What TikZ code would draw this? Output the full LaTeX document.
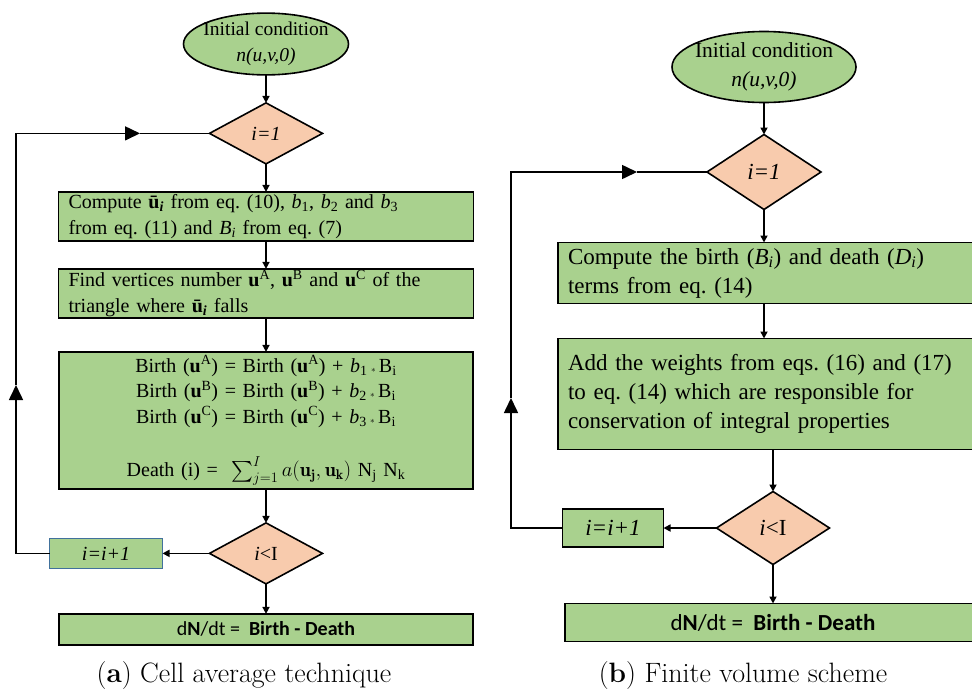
\documentclass[tikz,border=0pt]{standalone}
\usepackage{fontspec}
\usepackage{amsmath}
\newfontfamily\timesfont{Liberation Serif}
\newfontfamily\calfont{Carlito}
\usetikzlibrary{arrows.meta,positioning,shapes.geometric}
\definecolor{cellgreen}{RGB}{169,209,142}
\definecolor{peach}{RGB}{248,203,173}
\definecolor{incblue}{RGB}{65,113,156}

\begin{document}
\begin{tikzpicture}[x=1pt, y=-1pt,
        startnode/.style={ellipse, draw, line width=1.6pt, fill=cellgreen, align=center, inner xsep=-6pt, inner ysep=0pt, outer sep=0pt},
        testnode/.style={diamond, draw, line width=1.6pt, fill=peach, inner sep=0pt, outer sep=0pt},
        stepbox/.style={rectangle, draw, line width=1.6pt, fill=cellgreen, inner xsep=10pt, inner ysep=0pt, outer sep=0pt},
        flow/.style={-{Triangle[length=7pt, width=7pt]}, line width=1.6pt},
        loopflow/.style={-{Triangle[length=15pt, width=14pt]}, line width=1.6pt},
        textA/.style={font=\timesfont\frenchspacing\fontsize{20}{25.5}\selectfont},
        textB/.style={font=\timesfont\frenchspacing\fontsize{23}{29}\selectfont}
    ]
        \useasboundingbox (0,0) rectangle (972,691);

        % (a) cell average technique
        \node[startnode, font=\timesfont\fontsize{19.5}{26}\selectfont, minimum width=165pt, minimum height=61pt] (startA) at (266,44)
            {Initial condition\\\textit{n(u,v,0)}};
        \node[testnode, textA, minimum width=113pt, minimum height=61pt, below=28pt of startA] (firstA) {\textit{i=1}};
        \node[stepbox, textA, align=left, text width=395pt, minimum height=49pt, below=28pt of firstA] (computeA)
            {Compute \textbf{ū}\textsubscript{\bfseries\itshape i} from eq. (10), \textit{b}\textsubscript{1}, \textit{b}\textsubscript{2} and \textit{b}\textsubscript{3}\\
             from eq. (11) and \textit{B\textsubscript{i}} from eq. (7)};
        \node[stepbox, textA, align=left, text width=395pt, minimum height=49pt, below=28pt of computeA] (findA)
            {Find vertices number \textbf{u}\textsuperscript{A}, \textbf{u}\textsuperscript{B} and \textbf{u}\textsuperscript{C} of the\\
             triangle where \textbf{ū}\textsubscript{\bfseries\itshape i} falls};
        \node[stepbox, textA, align=center, text width=394pt, minimum height=137pt, below=34pt of findA] (birthA)
            {Birth (\textbf{u}\textsuperscript{A}) = Birth (\textbf{u}\textsuperscript{A}) + \textit{b}\textsubscript{1}\,{\small$\ast$}\,B\textsubscript{i}\\
             Birth (\textbf{u}\textsuperscript{B}) = Birth (\textbf{u}\textsuperscript{B}) + \textit{b}\textsubscript{2}\,{\small$\ast$}\,B\textsubscript{i}\\
             Birth (\textbf{u}\textsuperscript{C}) = Birth (\textbf{u}\textsuperscript{C}) + \textit{b}\textsubscript{3}\,{\small$\ast$}\,B\textsubscript{i}\\[28pt]
             Death (i) = \ $\sum_{j=1}^{I} a(\mathbf{u}_{\mathbf{j}}, \mathbf{u}_{\mathbf{k}})$ N\textsubscript{j} N\textsubscript{k}};
        \node[testnode, textA, minimum width=113pt, minimum height=61pt, below=34pt of birthA] (lessA) {\textit{i}<I};
        \node[stepbox, textA, draw=incblue, line width=0.8pt, minimum width=113pt, minimum height=30pt, left=47pt of lessA] (incA) {\textit{i=i+1}};
        \node[stepbox, font=\calfont\fontsize{20}{24}\selectfont, minimum width=414pt, minimum height=31pt, below=30pt of lessA] (endA)
            {d\textbf{N}/dt = \ \textbf{Birth - Death}};

        \draw[flow] (startA) -- (firstA);
        \draw[flow] (firstA) -- (computeA);
        \draw[flow] (computeA) -- (findA);
        \draw[flow] (findA) -- (birthA);
        \draw[flow] (birthA) -- (lessA);
        \draw[flow] (lessA) -- (incA);
        \draw[flow] (lessA) -- (endA);

        \coordinate (upA) at (16,385);
        \coordinate (topA) at (140,0 |- firstA);
        \draw[loopflow] (incA.west) -| (upA);
        \draw[loopflow] (upA) |- (topA);
        \draw[line width=1.6pt] (topA) -- (firstA.west);

        % (b) finite volume scheme
        \node[startnode, font=\timesfont\fontsize{21.5}{29}\selectfont, minimum width=184pt, minimum height=71pt] (startB) at (764,67)
            {Initial condition\\\textit{n(u,v,0)}};
        \node[testnode, textB, minimum width=114pt, minimum height=75pt, below=32pt of startB] (firstB) {\textit{i=1}};
        \node[stepbox, textB, align=left, text width=400pt, minimum height=61pt, below=33pt of firstB, xshift=4pt] (computeB)
            {Compute the birth (\textit{B\textsubscript{i}}) and death (\textit{D\textsubscript{i}})\\
             terms from eq. (14)};
        \node[stepbox, textB, align=left, text width=400pt, minimum height=111pt, below=35pt of computeB] (weightB)
            {Add the weights from eqs. (16) and (17)\\
             to eq. (14) which are responsible for\\
             conservation of integral properties};
        \node[testnode, textB, minimum width=113pt, minimum height=73pt, below=42pt of weightB, xshift=5pt] (lessB) {\textit{i}<I};
        \node[stepbox, textB, minimum width=101pt, minimum height=38pt, left=53pt of lessB] (incB) {\textit{i=i+1}};
        \node[stepbox, font=\calfont\fontsize{23}{27}\selectfont, minimum width=416pt, minimum height=38pt, below=39pt of lessB] (endB)
            {d\textbf{N}/dt = \ \textbf{Birth - Death}};

        \draw[flow] (startB) -- (firstB);
        \draw[flow] (firstB.south) -- (firstB.south |- computeB.north);
        \draw[flow] (firstB.south |- computeB.south) -- (firstB.south |- weightB.north);
        \draw[flow] (lessB.north |- weightB.south) -- (lessB.north);
        \draw[flow] (lessB) -- (incB);
        \draw[flow] (lessB.south) -- (lessB.south |- endB.north);

        \coordinate (upB) at (511,398);
        \coordinate (topB) at (637,0 |- firstB);
        \draw[loopflow] (incB.west) -| (upB);
        \draw[loopflow] (upB) |- (topB);
        \draw[line width=1.6pt] (topB) -- (firstB.west);

        % captions
        \node[font=\fontsize{28}{32}\selectfont] (capA) at (244,676) {(\textbf{a}) Cell average technique};
        \node[font=\fontsize{28}{32}\selectfont] (capB) at (743,676) {(\textbf{b}) Finite volume scheme};
    \end{tikzpicture}
\end{document}
